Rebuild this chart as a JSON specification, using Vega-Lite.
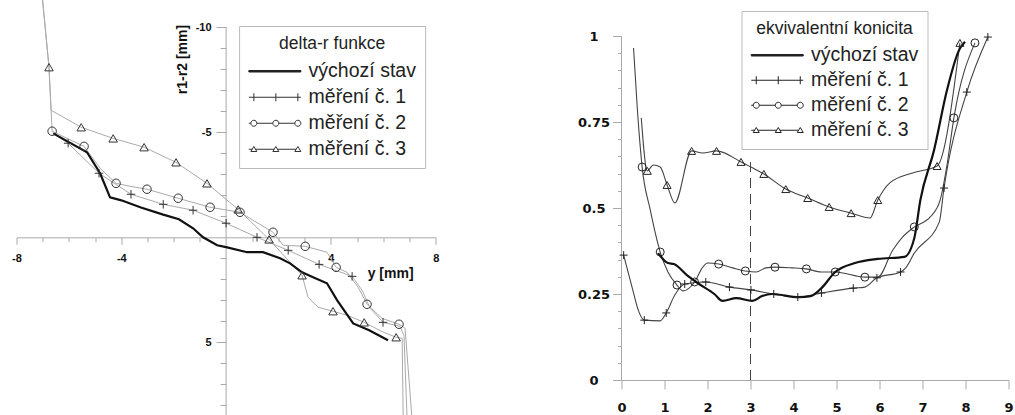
{
  "$schema": "https://vega.github.io/schema/vega-lite/v6.json",
  "background": "white",
  "padding": {"left": 11.5, "top": 0, "right": 0, "bottom": 0},
  "spacing": 137,
  "resolve": {"scale": {"color": "independent", "shape": "independent"}, "legend": {"color": "independent", "shape": "independent"}},
  "config": {
    "view": {"stroke": null},
    "axis": {"domainColor": "#aaaaaa", "tickColor": "#aaaaaa", "labelColor": "#111111", "labelFontWeight": "bold", "labelOverlap": false, "labelFlush": false, "labelBound": false, "grid": false, "titleColor": "#111111"}
  },
  "datasets": {
    "left_lines": [
      {"s": "výchozí stav", "x": -6.60, "y": -4.95}, {"s": "výchozí stav", "x": -5.31, "y": -4.05}, {"s": "výchozí stav", "x": -4.81, "y": -3.05}, {"s": "výchozí stav", "x": -4.43, "y": -1.90}, {"s": "výchozí stav", "x": -4.00, "y": -1.76}, {"s": "výchozí stav", "x": -3.25, "y": -1.42}, {"s": "výchozí stav", "x": -2.40, "y": -1.08}, {"s": "výchozí stav", "x": -1.80, "y": -0.86}, {"s": "výchozí stav", "x": -1.26, "y": -0.43}, {"s": "výchozí stav", "x": -0.88, "y": 0.00}, {"s": "výchozí stav", "x": -0.34, "y": 0.38}, {"s": "výchozí stav", "x": 0.04, "y": 0.48}, {"s": "výchozí stav", "x": 0.80, "y": 0.71}, {"s": "výchozí stav", "x": 1.41, "y": 0.71}, {"s": "výchozí stav", "x": 2.06, "y": 1.00}, {"s": "výchozí stav", "x": 2.44, "y": 1.24}, {"s": "výchozí stav", "x": 2.90, "y": 1.67}, {"s": "výchozí stav", "x": 3.32, "y": 1.90}, {"s": "výchozí stav", "x": 3.85, "y": 2.19}, {"s": "výchozí stav", "x": 4.24, "y": 3.00}, {"s": "výchozí stav", "x": 4.85, "y": 4.10}, {"s": "výchozí stav", "x": 5.46, "y": 4.43}, {"s": "výchozí stav", "x": 6.18, "y": 4.90},
      {"s": "měření č. 1", "x": -6.60, "y": -4.95}, {"s": "měření č. 1", "x": -6.03, "y": -4.48}, {"s": "měření č. 1", "x": -4.85, "y": -3.05}, {"s": "měření č. 1", "x": -3.63, "y": -2.05}, {"s": "měření č. 1", "x": -2.40, "y": -1.57}, {"s": "měření č. 1", "x": -1.26, "y": -1.29}, {"s": "měření č. 1", "x": 0.00, "y": -0.67}, {"s": "měření č. 1", "x": 1.18, "y": 0.00}, {"s": "měření č. 1", "x": 2.37, "y": 0.62}, {"s": "měření č. 1", "x": 3.55, "y": 1.29}, {"s": "měření č. 1", "x": 4.81, "y": 1.86}, {"s": "měření č. 1", "x": 5.19, "y": 2.52}, {"s": "měření č. 1", "x": 5.50, "y": 3.38}, {"s": "měření č. 1", "x": 5.99, "y": 4.05}, {"s": "měření č. 1", "x": 6.64, "y": 4.24}, {"s": "měření č. 1", "x": 6.79, "y": 4.67}, {"s": "měření č. 1", "x": 6.91, "y": 8.70},
      {"s": "měření č. 2", "x": -7.02, "y": -11.5}, {"s": "měření č. 2", "x": -6.76, "y": -8.10}, {"s": "měření č. 2", "x": -6.64, "y": -5.05}, {"s": "měření č. 2", "x": -5.42, "y": -4.33}, {"s": "měření č. 2", "x": -4.81, "y": -3.29}, {"s": "měření č. 2", "x": -4.20, "y": -2.57}, {"s": "měření č. 2", "x": -3.66, "y": -2.43}, {"s": "měření č. 2", "x": -3.02, "y": -2.29}, {"s": "měření č. 2", "x": -1.83, "y": -1.86}, {"s": "měření č. 2", "x": -0.61, "y": -1.43}, {"s": "měření č. 2", "x": 0.53, "y": -1.19}, {"s": "měření č. 2", "x": 1.79, "y": -0.24}, {"s": "měření č. 2", "x": 2.18, "y": 0.38}, {"s": "měření č. 2", "x": 3.02, "y": 0.43}, {"s": "měření č. 2", "x": 3.85, "y": 0.71}, {"s": "měření č. 2", "x": 4.20, "y": 1.43}, {"s": "měření č. 2", "x": 4.62, "y": 1.67}, {"s": "měření č. 2", "x": 5.04, "y": 2.38}, {"s": "měření č. 2", "x": 5.38, "y": 3.19}, {"s": "měření č. 2", "x": 5.95, "y": 3.86}, {"s": "měření č. 2", "x": 6.60, "y": 4.14}, {"s": "měření č. 2", "x": 6.83, "y": 4.33}, {"s": "měření č. 2", "x": 7.10, "y": 8.70},
      {"s": "měření č. 3", "x": -7.02, "y": -11.5}, {"s": "měření č. 3", "x": -6.76, "y": -8.10}, {"s": "měření č. 3", "x": -6.68, "y": -6.05}, {"s": "měření č. 3", "x": -5.53, "y": -5.24}, {"s": "měření č. 3", "x": -4.31, "y": -4.71}, {"s": "měření č. 3", "x": -3.13, "y": -4.29}, {"s": "měření č. 3", "x": -1.91, "y": -3.57}, {"s": "měření č. 3", "x": -0.73, "y": -2.57}, {"s": "měření č. 3", "x": 0.46, "y": -1.33}, {"s": "měření č. 3", "x": 1.64, "y": 0.10}, {"s": "měření č. 3", "x": 2.90, "y": 1.81}, {"s": "měření č. 3", "x": 3.13, "y": 2.86}, {"s": "měření č. 3", "x": 3.51, "y": 3.33}, {"s": "měření č. 3", "x": 4.08, "y": 3.52}, {"s": "měření č. 3", "x": 4.62, "y": 3.71}, {"s": "měření č. 3", "x": 5.27, "y": 4.05}, {"s": "měření č. 3", "x": 6.00, "y": 4.52}, {"s": "měření č. 3", "x": 6.49, "y": 4.76}, {"s": "měření č. 3", "x": 6.72, "y": 4.81}, {"s": "měření č. 3", "x": 6.76, "y": 8.70}
    ],
    "left_markers": [
      {"s": "měření č. 1", "x": -6.03, "y": -4.48}, {"s": "měření č. 1", "x": -4.85, "y": -3.05}, {"s": "měření č. 1", "x": -3.63, "y": -2.05}, {"s": "měření č. 1", "x": -2.40, "y": -1.57}, {"s": "měření č. 1", "x": -1.26, "y": -1.29}, {"s": "měření č. 1", "x": 0.00, "y": -0.67}, {"s": "měření č. 1", "x": 1.18, "y": 0.00}, {"s": "měření č. 1", "x": 2.37, "y": 0.62}, {"s": "měření č. 1", "x": 3.55, "y": 1.29}, {"s": "měření č. 1", "x": 4.81, "y": 1.86}, {"s": "měření č. 1", "x": 5.99, "y": 4.05},
      {"s": "měření č. 2", "x": -6.64, "y": -5.05}, {"s": "měření č. 2", "x": -5.42, "y": -4.33}, {"s": "měření č. 2", "x": -4.20, "y": -2.57}, {"s": "měření č. 2", "x": -3.02, "y": -2.29}, {"s": "měření č. 2", "x": -1.83, "y": -1.86}, {"s": "měření č. 2", "x": -0.61, "y": -1.43}, {"s": "měření č. 2", "x": 0.53, "y": -1.19}, {"s": "měření č. 2", "x": 1.79, "y": -0.24}, {"s": "měření č. 2", "x": 3.02, "y": 0.43}, {"s": "měření č. 2", "x": 4.20, "y": 1.43}, {"s": "měření č. 2", "x": 5.38, "y": 3.19}, {"s": "měření č. 2", "x": 6.60, "y": 4.14},
      {"s": "měření č. 3", "x": -6.76, "y": -8.10}, {"s": "měření č. 3", "x": -5.53, "y": -5.24}, {"s": "měření č. 3", "x": -4.31, "y": -4.71}, {"s": "měření č. 3", "x": -3.13, "y": -4.29}, {"s": "měření č. 3", "x": -1.91, "y": -3.57}, {"s": "měření č. 3", "x": -0.73, "y": -2.57}, {"s": "měření č. 3", "x": 0.46, "y": -1.33}, {"s": "měření č. 3", "x": 1.64, "y": 0.10}, {"s": "měření č. 3", "x": 2.90, "y": 1.81}, {"s": "měření č. 3", "x": 4.08, "y": 3.52}, {"s": "měření č. 3", "x": 5.27, "y": 4.05}, {"s": "měření č. 3", "x": 6.49, "y": 4.76}
    ],
    "right_lines": [
      {"s": "výchozí stav", "x": 0.85, "y": 0.369}, {"s": "výchozí stav", "x": 1.08, "y": 0.340}, {"s": "výchozí stav", "x": 1.22, "y": 0.337}, {"s": "výchozí stav", "x": 1.52, "y": 0.305}, {"s": "výchozí stav", "x": 1.77, "y": 0.282}, {"s": "výchozí stav", "x": 2.16, "y": 0.250}, {"s": "výchozí stav", "x": 2.35, "y": 0.230}, {"s": "výchozí stav", "x": 2.67, "y": 0.238}, {"s": "výchozí stav", "x": 3.04, "y": 0.230}, {"s": "výchozí stav", "x": 3.27, "y": 0.244}, {"s": "výchozí stav", "x": 3.50, "y": 0.250}, {"s": "výchozí stav", "x": 4.12, "y": 0.241}, {"s": "výchozí stav", "x": 4.40, "y": 0.244}, {"s": "výchozí stav", "x": 4.65, "y": 0.267}, {"s": "výchozí stav", "x": 4.97, "y": 0.314}, {"s": "výchozí stav", "x": 5.43, "y": 0.340}, {"s": "výchozí stav", "x": 5.96, "y": 0.352}, {"s": "výchozí stav", "x": 6.58, "y": 0.358}, {"s": "výchozí stav", "x": 6.81, "y": 0.413}, {"s": "výchozí stav", "x": 6.95, "y": 0.523}, {"s": "výchozí stav", "x": 7.27, "y": 0.669}, {"s": "výchozí stav", "x": 7.57, "y": 0.843}, {"s": "výchozí stav", "x": 7.85, "y": 0.959}, {"s": "výchozí stav", "x": 7.99, "y": 0.983},
      {"s": "měření č. 1", "x": 0.05, "y": 0.363}, {"s": "měření č. 1", "x": 0.28, "y": 0.253}, {"s": "měření č. 1", "x": 0.39, "y": 0.203}, {"s": "měření č. 1", "x": 0.53, "y": 0.174}, {"s": "měření č. 1", "x": 0.90, "y": 0.172}, {"s": "měření č. 1", "x": 1.04, "y": 0.195}, {"s": "měření č. 1", "x": 1.24, "y": 0.247}, {"s": "měření č. 1", "x": 1.47, "y": 0.279}, {"s": "měření č. 1", "x": 1.96, "y": 0.285}, {"s": "měření č. 1", "x": 2.51, "y": 0.270}, {"s": "měření č. 1", "x": 3.01, "y": 0.262}, {"s": "měření č. 1", "x": 3.54, "y": 0.250}, {"s": "měření č. 1", "x": 4.10, "y": 0.241}, {"s": "měření č. 1", "x": 4.65, "y": 0.253}, {"s": "měření č. 1", "x": 5.39, "y": 0.267}, {"s": "měření č. 1", "x": 5.66, "y": 0.270}, {"s": "měření č. 1", "x": 5.94, "y": 0.297}, {"s": "měření č. 1", "x": 6.49, "y": 0.314}, {"s": "měření č. 1", "x": 6.61, "y": 0.326}, {"s": "měření č. 1", "x": 6.81, "y": 0.369}, {"s": "měření č. 1", "x": 7.39, "y": 0.459}, {"s": "měření č. 1", "x": 7.50, "y": 0.558}, {"s": "měření č. 1", "x": 8.03, "y": 0.837}, {"s": "měření č. 1", "x": 8.52, "y": 0.997},
      {"s": "měření č. 2", "x": 0.28, "y": 0.965}, {"s": "měření č. 2", "x": 0.37, "y": 0.785}, {"s": "měření č. 2", "x": 0.48, "y": 0.619}, {"s": "měření č. 2", "x": 0.67, "y": 0.494}, {"s": "měření č. 2", "x": 0.90, "y": 0.372}, {"s": "měření č. 2", "x": 1.08, "y": 0.314}, {"s": "měření č. 2", "x": 1.29, "y": 0.276}, {"s": "měření č. 2", "x": 1.43, "y": 0.259}, {"s": "měření č. 2", "x": 1.70, "y": 0.285}, {"s": "měření č. 2", "x": 1.89, "y": 0.328}, {"s": "měření č. 2", "x": 2.00, "y": 0.340}, {"s": "měření č. 2", "x": 2.26, "y": 0.337}, {"s": "měření č. 2", "x": 2.58, "y": 0.326}, {"s": "měření č. 2", "x": 2.88, "y": 0.317}, {"s": "měření č. 2", "x": 3.13, "y": 0.314}, {"s": "měření č. 2", "x": 3.36, "y": 0.326}, {"s": "měření č. 2", "x": 3.57, "y": 0.328}, {"s": "měření č. 2", "x": 3.96, "y": 0.326}, {"s": "měření č. 2", "x": 4.30, "y": 0.323}, {"s": "měření č. 2", "x": 4.65, "y": 0.314}, {"s": "měření č. 2", "x": 4.97, "y": 0.314}, {"s": "měření č. 2", "x": 5.66, "y": 0.299}, {"s": "měření č. 2", "x": 5.96, "y": 0.299}, {"s": "měření č. 2", "x": 6.31, "y": 0.378}, {"s": "měření č. 2", "x": 6.54, "y": 0.416}, {"s": "měření č. 2", "x": 6.81, "y": 0.445}, {"s": "měření č. 2", "x": 7.18, "y": 0.474}, {"s": "měření č. 2", "x": 7.41, "y": 0.523}, {"s": "měření č. 2", "x": 7.57, "y": 0.625}, {"s": "měření č. 2", "x": 7.73, "y": 0.762}, {"s": "měření č. 2", "x": 8.22, "y": 0.980},
      {"s": "měření č. 3", "x": 0.46, "y": 0.762}, {"s": "měření č. 3", "x": 0.60, "y": 0.608}, {"s": "měření č. 3", "x": 0.74, "y": 0.625}, {"s": "měření č. 3", "x": 0.90, "y": 0.619}, {"s": "měření č. 3", "x": 1.06, "y": 0.567}, {"s": "měření č. 3", "x": 1.24, "y": 0.515}, {"s": "měření č. 3", "x": 1.63, "y": 0.666}, {"s": "měření č. 3", "x": 1.89, "y": 0.660}, {"s": "měření č. 3", "x": 2.21, "y": 0.666}, {"s": "měření č. 3", "x": 2.78, "y": 0.634}, {"s": "měření č. 3", "x": 3.01, "y": 0.619}, {"s": "měření č. 3", "x": 3.31, "y": 0.599}, {"s": "měření č. 3", "x": 3.82, "y": 0.555}, {"s": "měření č. 3", "x": 4.33, "y": 0.529}, {"s": "měření č. 3", "x": 4.83, "y": 0.503}, {"s": "měření č. 3", "x": 5.34, "y": 0.485}, {"s": "měření č. 3", "x": 5.78, "y": 0.471}, {"s": "měření č. 3", "x": 5.96, "y": 0.523}, {"s": "měření č. 3", "x": 6.24, "y": 0.573}, {"s": "měření č. 3", "x": 6.77, "y": 0.602}, {"s": "měření č. 3", "x": 7.34, "y": 0.622}, {"s": "měření č. 3", "x": 7.87, "y": 0.980}
    ],
    "right_markers": [
      {"s": "měření č. 1", "x": 0.05, "y": 0.363}, {"s": "měření č. 1", "x": 0.53, "y": 0.174}, {"s": "měření č. 1", "x": 1.04, "y": 0.195}, {"s": "měření č. 1", "x": 1.47, "y": 0.279}, {"s": "měření č. 1", "x": 1.96, "y": 0.285}, {"s": "měření č. 1", "x": 2.51, "y": 0.270}, {"s": "měření č. 1", "x": 3.01, "y": 0.262}, {"s": "měření č. 1", "x": 3.54, "y": 0.250}, {"s": "měření č. 1", "x": 4.10, "y": 0.241}, {"s": "měření č. 1", "x": 4.65, "y": 0.253}, {"s": "měření č. 1", "x": 5.39, "y": 0.267}, {"s": "měření č. 1", "x": 5.94, "y": 0.297}, {"s": "měření č. 1", "x": 6.49, "y": 0.314}, {"s": "měření č. 1", "x": 7.50, "y": 0.558}, {"s": "měření č. 1", "x": 8.03, "y": 0.837}, {"s": "měření č. 1", "x": 8.52, "y": 0.997},
      {"s": "měření č. 2", "x": 0.48, "y": 0.619}, {"s": "měření č. 2", "x": 0.90, "y": 0.372}, {"s": "měření č. 2", "x": 1.29, "y": 0.276}, {"s": "měření č. 2", "x": 1.70, "y": 0.285}, {"s": "měření č. 2", "x": 2.26, "y": 0.337}, {"s": "měření č. 2", "x": 2.88, "y": 0.317}, {"s": "měření č. 2", "x": 3.57, "y": 0.328}, {"s": "měření č. 2", "x": 4.30, "y": 0.323}, {"s": "měření č. 2", "x": 4.97, "y": 0.314}, {"s": "měření č. 2", "x": 5.66, "y": 0.299}, {"s": "měření č. 2", "x": 6.81, "y": 0.445}, {"s": "měření č. 2", "x": 7.73, "y": 0.762}, {"s": "měření č. 2", "x": 8.22, "y": 0.980},
      {"s": "měření č. 3", "x": 0.60, "y": 0.608}, {"s": "měření č. 3", "x": 1.06, "y": 0.567}, {"s": "měření č. 3", "x": 1.63, "y": 0.666}, {"s": "měření č. 3", "x": 2.21, "y": 0.666}, {"s": "měření č. 3", "x": 2.78, "y": 0.634}, {"s": "měření č. 3", "x": 3.31, "y": 0.599}, {"s": "měření č. 3", "x": 3.82, "y": 0.555}, {"s": "měření č. 3", "x": 4.33, "y": 0.529}, {"s": "měření č. 3", "x": 4.83, "y": 0.503}, {"s": "měření č. 3", "x": 5.34, "y": 0.485}, {"s": "měření č. 3", "x": 5.96, "y": 0.523}, {"s": "měření č. 3", "x": 7.34, "y": 0.622}, {"s": "měření č. 3", "x": 7.87, "y": 0.980}
    ],
    "right_dash": [{"x": 3, "y": 0, "y2": 0.635}]
  },
  "hconcat": [
    {
      "width": 419.2,
      "height": 415.8,
      "resolve": {"axis": {"x": "independent", "y": "independent"}},
      "layer": [
        {
          "data": {"values": [{}]},
          "mark": {"type": "rule", "color": "#aaaaaa", "strokeWidth": 1},
          "encoding": {
            "x": {"datum": 0, "type": "quantitative", "scale": {"domain": [-8, 8], "nice": false, "zero": false},
              "axis": {"orient": "bottom", "offset": -178.5, "values": [-8, -4, 4, 8],
                "labelExpr": "toString(datum.value)", "labelOverlap": false,
                "tickSize": 7, "labelPadding": 8, "labelFont": "Liberation Sans", "labelFontSize": 11,
                "title": "y [mm]", "titleX": 373.6, "titleY": 36, "titleAlign": "center", "titleBaseline": "middle", "titleFont": "Liberation Sans", "titleFontSize": 14, "titleFontWeight": "bold"}},
            "y": {"datum": -10, "type": "quantitative", "scale": {"domain": [-11.3, 8.5], "reverse": true, "nice": false, "zero": false},
              "axis": {"orient": "left", "offset": -209.6, "domain": false, "values": [-10, -5, 5],
                "labelExpr": "toString(datum.value)", "labelOverlap": false,
                "tickSize": 10, "labelPadding": 5, "labelFont": "Liberation Sans", "labelFontSize": 11,
                "title": "r1-r2 [mm]", "titleX": -44, "titleY": 59, "titleAngle": 270, "titleAlign": "center", "titleBaseline": "middle", "titleFont": "Liberation Sans", "titleFontSize": 14, "titleFontWeight": "bold"}},
            "y2": {"datum": 8.5}
          }
        },
        {
          "data": {"values": [{}]},
          "mark": {"type": "rule", "opacity": 0},
          "encoding": {
            "x": {"datum": 0, "type": "quantitative",
              "axis": {"orient": "bottom", "offset": -178.5, "domain": false, "labels": false, "title": null, "tickSize": 4.5,
                "values": [-7, -6, -5, -3, -2, -1, 1, 2, 3, 5, 6, 7]}},
            "y": {"datum": -10, "type": "quantitative",
              "axis": {"orient": "left", "offset": -209.6, "domain": false, "labels": false, "title": null, "tickSize": 6,
                "values": [-9, -8, -7, -6, -4, -3, -2, -1, 1, 2, 3, 4, 6, 7, 8]}},
            "y2": {"datum": -10}
          }
        },
        {
          "data": {"name": "left_lines"},
          "transform": [{"filter": "datum.s !== 'výchozí stav'"}],
          "mark": {"type": "line", "clip": true, "color": "#aaaaaa", "strokeWidth": 1},
          "encoding": {
            "x": {"field": "x", "type": "quantitative", "axis": null},
            "y": {"field": "y", "type": "quantitative", "axis": null},
            "detail": {"field": "s"}
          }
        },
        {
          "data": {"name": "left_lines"},
          "transform": [{"filter": "datum.s === 'výchozí stav'"}],
          "mark": {"type": "line", "clip": true, "color": "#111111", "strokeWidth": 2.2},
          "encoding": {
            "x": {"field": "x", "type": "quantitative", "axis": null},
            "y": {"field": "y", "type": "quantitative", "axis": null}
          }
        },
        {
          "data": {"name": "left_markers"},
          "mark": {"type": "point", "filled": false, "opacity": 1, "size": 72, "strokeWidth": 1},
          "encoding": {
            "x": {"field": "x", "type": "quantitative", "axis": null},
            "y": {"field": "y", "type": "quantitative", "axis": null},
            "shape": {"field": "s", "type": "nominal",
              "scale": {"domain": ["měření č. 1", "měření č. 2", "měření č. 3"], "range": ["M-1,0H1M0,-1V1", "circle", "triangle-up"]},
              "legend": null},
            "color": {"field": "s", "type": "nominal",
              "scale": {"domain": ["výchozí stav", "měření č. 1", "měření č. 2", "měření č. 3"], "range": ["#222222", "#333333", "#333333", "#333333"]},
              "legend": {
                "title": "delta-r funkce", "orient": "none", "legendX": 222.6, "legendY": 26,
                "padding": 9, "strokeColor": "#bbbbbb", "fillColor": "white",
                "titleFont": "Liberation Sans", "titleFontSize": 17.5, "titleFontWeight": "normal", "titleColor": "#222222", "titleAnchor": "middle", "titlePadding": 9,
                "labelFont": "Liberation Sans", "labelFontSize": 19.5, "labelColor": "#222222", "labelOffset": 45, "labelLimit": 300,
                "symbolSize": 100, "symbolOffset": -4, "symbolStrokeWidth": 1, "rowPadding": 5,
                "encoding": {"symbols": {
                  "shape": {"value": {"expr": "datum.value === 'výchozí stav' ? 'M-1,-0.15H9.4V0.15H-1Z' : datum.value === 'měření č. 1' ? 'M-1,0H9.4M0,-0.8V0.8M4.4,-0.8V0.8M8.8,-0.8V0.8' : datum.value === 'měření č. 2' ? 'M-1,0H-0.6M0.6,0H3.8M5,0H8.2M-0.6,0A0.6,0.6,0,1,1,0.6,0A0.6,0.6,0,1,1,-0.6,0ZM3.8,0A0.6,0.6,0,1,1,5,0A0.6,0.6,0,1,1,3.8,0ZM8.2,0A0.6,0.6,0,1,1,9.4,0A0.6,0.6,0,1,1,8.2,0Z' : 'M-1,0H-0.33M0.33,0H4.07M4.73,0H8.47M-0.6,0.45L0,-0.55L0.6,0.45ZM3.8,0.45L4.4,-0.55L5,0.45ZM8.2,0.45L8.8,-0.55L9.4,0.45Z'"}},
                  "fill": {"condition": {"test": "datum.value === 'výchozí stav'", "value": "#222222"}, "value": "transparent"},
                  "size": {"value": 100}
                }}
              }
            }
          }
        }
      ]
    },
    {
      "width": 387,
      "height": 380,
      "resolve": {"axis": {"x": "independent", "y": "independent"}},
      "layer": [
        {
          "data": {"values": [{}]},
          "mark": {"type": "rule", "color": "#aaaaaa", "strokeWidth": 1},
          "encoding": {
            "x": {"datum": 0, "type": "quantitative", "scale": {"domain": [0, 9], "nice": false, "zero": false},
              "axis": {"orient": "bottom", "values": [0, 1, 2, 3, 4, 5, 6, 7, 8, 9], "labelOverlap": false, "tickSize": 9, "labelPadding": 12, "labelFont": "DejaVu Sans", "labelFontSize": 13, "title": null}},
            "y": {"datum": 0, "type": "quantitative", "scale": {"domain": [0, 1.1047], "nice": false, "zero": false},
              "axis": {"orient": "left", "domain": false, "values": [0, 0.25, 0.5, 0.75, 1],
                "labelExpr": "toString(datum.value)", "labelOverlap": false,
                "tickSize": 9, "labelPadding": 19, "labelAlign": "center", "labelFont": "DejaVu Sans", "labelFontSize": 13, "title": null}},
            "y2": {"datum": 1}
          }
        },
        {
          "data": {"values": [{}]},
          "mark": {"type": "rule", "opacity": 0},
          "encoding": {
            "x": {"datum": 0, "type": "quantitative", "axis": null},
            "y": {"datum": 0, "type": "quantitative",
              "axis": {"orient": "left", "domain": false, "labels": false, "title": null, "tickSize": 4,
                "values": [0.05, 0.1, 0.15, 0.2, 0.3, 0.35, 0.4, 0.45, 0.55, 0.6, 0.65, 0.7, 0.8, 0.85, 0.9, 0.95]}},
            "y2": {"datum": 0}
          }
        },
        {
          "data": {"name": "right_dash"},
          "mark": {"type": "rule", "color": "#444444", "strokeWidth": 1, "strokeDash": [10, 6]},
          "encoding": {
            "x": {"field": "x", "type": "quantitative", "axis": null},
            "y": {"field": "y", "type": "quantitative", "axis": null},
            "y2": {"field": "y2"}
          }
        },
        {
          "data": {"name": "right_lines"},
          "transform": [{"filter": "datum.s !== 'výchozí stav'"}],
          "mark": {"type": "line", "clip": true, "color": "#444444", "strokeWidth": 1.1, "interpolate": "monotone"},
          "encoding": {
            "x": {"field": "x", "type": "quantitative", "axis": null},
            "y": {"field": "y", "type": "quantitative", "axis": null},
            "detail": {"field": "s"}
          }
        },
        {
          "data": {"name": "right_lines"},
          "transform": [{"filter": "datum.s === 'výchozí stav'"}],
          "mark": {"type": "line", "clip": true, "color": "#111111", "strokeWidth": 2.2, "interpolate": "monotone"},
          "encoding": {
            "x": {"field": "x", "type": "quantitative", "axis": null},
            "y": {"field": "y", "type": "quantitative", "axis": null}
          }
        },
        {
          "data": {"name": "right_markers"},
          "mark": {"type": "point", "filled": false, "opacity": 1, "size": 64, "strokeWidth": 1},
          "encoding": {
            "x": {"field": "x", "type": "quantitative", "axis": null},
            "y": {"field": "y", "type": "quantitative", "axis": null},
            "shape": {"field": "s", "type": "nominal",
              "scale": {"domain": ["měření č. 1", "měření č. 2", "měření č. 3"], "range": ["M-1,0H1M0,-1V1", "circle", "triangle-up"]},
              "legend": null},
            "color": {"field": "s", "type": "nominal",
              "scale": {"domain": ["výchozí stav", "měření č. 1", "měření č. 2", "měření č. 3"], "range": ["#222222", "#222222", "#222222", "#222222"]},
              "legend": {
                "title": "ekvivalentní konicita", "orient": "none", "legendX": 120, "legendY": 11,
                "padding": 9, "strokeColor": "#bbbbbb", "fillColor": "white",
                "titleFont": "Liberation Sans", "titleFontSize": 17.5, "titleFontWeight": "normal", "titleColor": "#222222", "titleAnchor": "middle", "titlePadding": 8,
                "labelFont": "Liberation Sans", "labelFontSize": 19.5, "labelColor": "#222222", "labelOffset": 45, "labelLimit": 300,
                "symbolSize": 100, "symbolOffset": -4, "symbolStrokeWidth": 1, "rowPadding": 4,
                "encoding": {"symbols": {
                  "shape": {"value": {"expr": "datum.value === 'výchozí stav' ? 'M-1,-0.15H9.4V0.15H-1Z' : datum.value === 'měření č. 1' ? 'M-1,0H9.4M0,-0.8V0.8M4.4,-0.8V0.8M8.8,-0.8V0.8' : datum.value === 'měření č. 2' ? 'M-1,0H-0.6M0.6,0H3.8M5,0H8.2M-0.6,0A0.6,0.6,0,1,1,0.6,0A0.6,0.6,0,1,1,-0.6,0ZM3.8,0A0.6,0.6,0,1,1,5,0A0.6,0.6,0,1,1,3.8,0ZM8.2,0A0.6,0.6,0,1,1,9.4,0A0.6,0.6,0,1,1,8.2,0Z' : 'M-1,0H-0.33M0.33,0H4.07M4.73,0H8.47M-0.6,0.45L0,-0.55L0.6,0.45ZM3.8,0.45L4.4,-0.55L5,0.45ZM8.2,0.45L8.8,-0.55L9.4,0.45Z'"}},
                  "fill": {"condition": {"test": "datum.value === 'výchozí stav'", "value": "#222222"}, "value": "transparent"},
                  "size": {"value": 100}
                }}
              }
            }
          }
        }
      ]
    }
  ]
}
